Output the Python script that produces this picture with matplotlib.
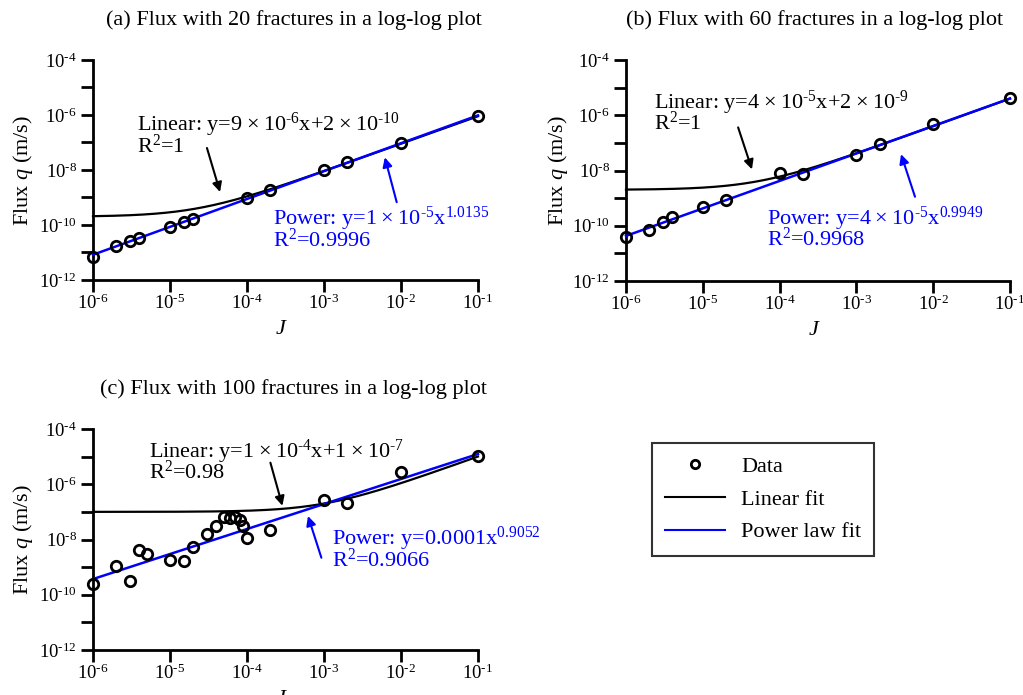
import numpy as np
import matplotlib
matplotlib.use("Agg")
import matplotlib.pyplot as plt
from matplotlib.lines import Line2D
from matplotlib.ticker import FixedLocator, FuncFormatter, NullFormatter

plt.rcParams['font.family'] = ['Liberation Serif', 'DejaVu Serif']
plt.rcParams['mathtext.fontset'] = 'custom'
plt.rcParams['mathtext.rm'] = 'Liberation Serif'
plt.rcParams['mathtext.it'] = 'Liberation Serif:italic'
plt.rcParams['mathtext.bf'] = 'Liberation Serif:bold'

# ---------------- data ----------------
x_a = [1e-6, 2e-6, 3e-6, 4e-6, 1e-5, 1.5e-5, 2e-5, 1e-4, 2e-4, 1e-3, 2e-3, 1e-2, 1e-1]
y_a = [6.6e-12, 1.7e-11, 2.6e-11, 3.4e-11, 8.2e-11, 1.3e-10, 1.7e-10, 9.5e-10,
       1.9e-9, 9.8e-9, 1.9e-8, 9.3e-8, 9.1e-7]

x_b = [1e-6, 2e-6, 3e-6, 4e-6, 1e-5, 2e-5, 1e-4, 2e-4, 1e-3, 2e-3, 1e-2, 1e-1]
y_b = [4.0e-11, 7.2e-11, 1.4e-10, 2.1e-10, 4.6e-10, 8.9e-10, 8.0e-9, 7.7e-9,
       3.6e-8, 9.3e-8, 4.7e-7, 4.3e-6]

x_c = [1e-6, 2e-6, 3e-6, 4e-6, 5e-6, 1e-5, 1.5e-5, 2e-5, 3e-5, 4e-5, 5e-5, 6e-5,
       7e-5, 8e-5, 9e-5, 1e-4, 2e-4, 1e-3, 2e-3, 1e-2, 1e-1]
y_c = [2.5e-10, 1.07e-9, 3.2e-10, 4.2e-9, 3.0e-9, 1.8e-9, 1.6e-9, 5.2e-9, 1.6e-8,
       3.1e-8, 6.3e-8, 6.2e-8, 6.3e-8, 5.1e-8, 3.1e-8, 1.1e-8, 2.3e-8, 2.6e-7,
       2.1e-7, 2.8e-6, 1.05e-5]

# fit coefficients: linear y = a*x + b ; power y = c * x**p
lin_a = [9e-6, 2e-10]
pow_a = [1e-5, 1.0135]
lin_b = [4e-5, 2e-9]
pow_b = [4e-5, 0.9949]
lin_c = [1e-4, 1e-7]
pow_c = [1e-4, 0.9052]

titles = ['(a) Flux with 20 fractures in a log-log plot',
          '(b) Flux with 60 fractures in a log-log plot',
          '(c) Flux with 100 fractures in a log-log plot']

T = '\u2009×\u2009'
HY = r'\text{-}'
lin_text = [r'Linear: y=9' + T + r'10$^{' + HY + r'6}$x+2' + T + r'10$^{' + HY + r'10}$',
            r'Linear: y=4' + T + r'10$^{' + HY + r'5}$x+2' + T + r'10$^{' + HY + r'9}$',
            r'Linear: y=1' + T + r'10$^{' + HY + r'4}$x+1' + T + r'10$^{' + HY + r'7}$']
lin_r2 = [r'R$^{2}$=1', r'R$^{2}$=1', r'R$^{2}$=0.98']
pow_text = [r'Power: y=1' + T + r'10$^{' + HY + r'5}$x$^{1.0135}$',
            r'Power: y=4' + T + r'10$^{' + HY + r'5}$x$^{0.9949}$',
            r'Power: y=0.0001x$^{0.9052}$']
pow_r2 = [r'R$^{2}$=0.9996', r'R$^{2}$=0.9968', r'R$^{2}$=0.9066']

# annotation positions (log10 of data coords)
lin_txt_pos = [(-5.433, -6.57), (-5.63, -5.75), (-5.27, -5.04)]
lin_r2_pos = [(-5.433, -7.37), (-5.63, -6.51), (-5.27, -5.81)]
pow_txt_pos = [(-3.667, -9.975), (-4.168, -9.95), (-2.89, -8.2)]
pow_r2_pos = [(-3.667, -10.79), (-4.168, -10.74), (-2.89, -8.98)]
lin_arrow = [((-4.52, -7.2), (-4.35, -8.8)), ((-4.54, -6.44), (-4.36, -7.96)),
             ((-3.696, -5.22), (-3.54, -6.78))]
pow_arrow = [((-2.056, -9.17), (-2.21, -7.54)), ((-2.237, -8.95), (-2.419, -7.41)),
             ((-3.034, -8.66), (-3.208, -7.15))]

xs_all = [x_a, x_b, x_c]
ys_all = [y_a, y_b, y_c]
lins = [lin_a, lin_b, lin_c]
pows = [pow_a, pow_b, pow_c]

W, H = 1023, 695
fig = plt.figure(figsize=(W / 100, H / 100), dpi=100)

# axes boxes in pixels: left, right, top, bottom
boxes = [(93, 478, 60, 280), (626, 1010, 60, 281), (93, 478, 429, 650)]
title_cx = [0.522, 0.492, 0.522]
ylab_x = [-0.151, -0.146, -0.151]

def fmt(v, pos):
    e = int(round(np.log10(v)))
    if e < 0:
        return r'$\mathregular{10^{\text{-}%d}}$' % (-e)
    return r'$\mathregular{10^{%d}}$' % e

FS = 16
for i, (l, r, t, b) in enumerate(boxes):
    ax = fig.add_axes([l / W, 1 - b / H, (r - l) / W, (b - t) / H])
    ax.set_xscale('log')
    ax.set_yscale('log')
    ax.set_xlim(1e-6, 1e-1)
    ax.set_ylim(1e-12, 1e-4)
    for s in ['top', 'right']:
        ax.spines[s].set_visible(False)
    for s in ['left', 'bottom']:
        ax.spines[s].set_linewidth(2)
    ax.xaxis.set_major_locator(FixedLocator([10.0 ** k for k in range(-6, 0)]))
    ax.xaxis.set_minor_locator(FixedLocator([]))
    ax.yaxis.set_major_locator(FixedLocator([10.0 ** k for k in range(-12, -3, 2)]))
    ax.yaxis.set_minor_locator(FixedLocator([10.0 ** k for k in range(-11, -4, 2)]))
    ax.xaxis.set_major_formatter(FuncFormatter(fmt))
    ax.yaxis.set_major_formatter(FuncFormatter(fmt))
    ax.yaxis.set_minor_formatter(NullFormatter())
    ax.tick_params(which='both', direction='out', length=8.5, width=2, labelsize=13.5)
    ax.tick_params(axis='x', pad=1.5)
    ax.tick_params(axis='y', pad=3)

    xx = np.logspace(-6, -1, 400)
    ax.plot(xx, lins[i][0] * xx + lins[i][1], color='black', lw=1.6, zorder=2, clip_on=False)
    ax.plot(xx, pows[i][0] * xx ** pows[i][1], color='#0000ff', lw=1.8, zorder=3, clip_on=False)
    ax.plot(xs_all[i], ys_all[i], 'o', mfc='none', mec='black', mew=2.0, ms=7.5,
            zorder=4, clip_on=False)

    ax.set_ylabel(r'Flux $q$ (m/s)', fontsize=FS)
    ax.set_xlabel(r'$J$', fontsize=FS)
    ax.yaxis.set_label_coords(ylab_x[i], 0.5)
    ax.xaxis.set_label_coords(0.49, -0.18)

    ax.text(title_cx[i], 1 + 40 / (b - t), titles[i], transform=ax.transAxes,
            ha='center', va='center', fontsize=FS)

    def P(p):
        return (10 ** p[0], 10 ** p[1])
    ax.text(*P(lin_txt_pos[i]), lin_text[i], fontsize=FS, color='black', va='baseline')
    ax.text(*P(lin_r2_pos[i]), lin_r2[i], fontsize=FS, color='black', va='baseline')
    ax.text(*P(pow_txt_pos[i]), pow_text[i], fontsize=FS, color='#0000ff', va='baseline')
    ax.text(*P(pow_r2_pos[i]), pow_r2[i], fontsize=FS, color='#0000ff', va='baseline')
    ax.annotate('', xy=P(lin_arrow[i][1]), xytext=P(lin_arrow[i][0]),
                arrowprops=dict(arrowstyle='-|>', color='black', lw=1.5,
                                mutation_scale=14, shrinkA=0, shrinkB=0))
    ax.annotate('', xy=P(pow_arrow[i][1]), xytext=P(pow_arrow[i][0]),
                arrowprops=dict(arrowstyle='-|>', color='#0000ff', lw=1.5,
                                mutation_scale=14, shrinkA=0, shrinkB=0))

handles = [Line2D([], [], marker='o', ls='none', mfc='none', mec='black', mew=2.0, ms=6),
           Line2D([], [], color='black', lw=1.5),
           Line2D([], [], color='#0000ff', lw=1.5)]
labels = ['Data', 'Linear fit', 'Power law fit']
leg = fig.legend(handles, labels, loc='upper left', bbox_to_anchor=(652 / W, 1 - 443 / H),
                 fontsize=FS, frameon=True, fancybox=False, edgecolor='black',
                 borderpad=0.6, labelspacing=0.55, handlelength=2.7, handletextpad=0.7,
                 borderaxespad=0)
leg.get_frame().set_linewidth(1.5)

fig.savefig('out.png', dpi=100)
